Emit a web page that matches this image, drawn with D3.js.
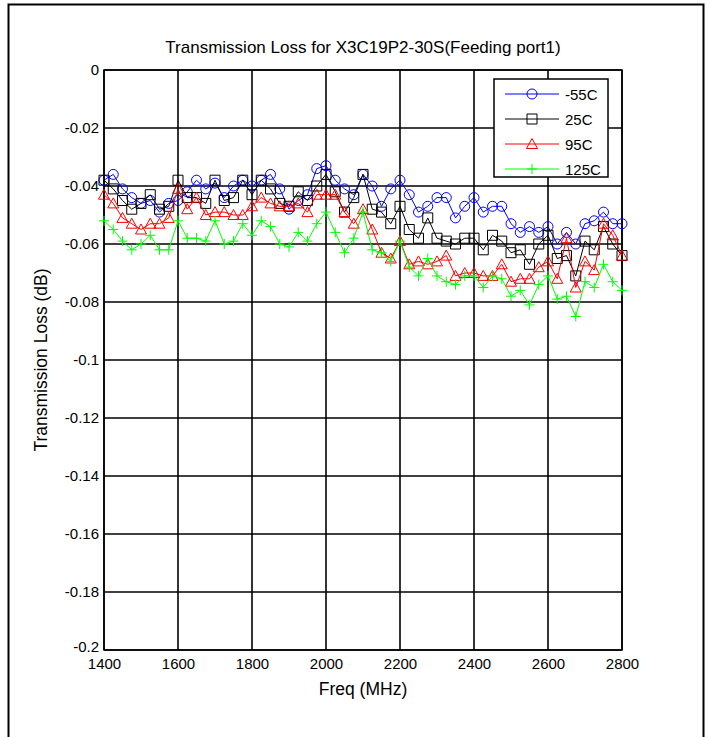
<!DOCTYPE html>
<html>
<head>
<meta charset="utf-8">
<script src="https://cdn.jsdelivr.net/npm/d3@7"></script>
<style>
  body { margin: 0; background: #fff; }
  text { font-family: Arial, "Liberation Sans", sans-serif; fill: #000; }
</style>
</head>
<body>
<svg id="chart" width="710" height="737"></svg>
<script>
// frequency points (MHz)
let freqs = [1400,1425,1450,1475,1500,1525,1550,1575,1600,1625,1650,1675,1700,1725,1750,1775,1800,1825,1850,1875,
  1900,1925,1950,1975,2000,2025,2050,2075,2100,2125,2150,2175,2200,2225,2250,2275,2300,2325,2350,2375,
  2400,2425,2450,2475,2500,2525,2550,2575,2600,2625,2650,2675,2700,2725,2750,2775,2800];

let lossM55 = [-0.038,-0.036,-0.041,-0.044,-0.046,-0.045,-0.049,-0.046,-0.045,-0.042,-0.038,-0.041,-0.039,-0.044,-0.040,-0.038,-0.040,-0.038,-0.036,-0.041,
  -0.048,-0.045,-0.043,-0.034,-0.033,-0.038,-0.041,-0.043,-0.036,-0.040,-0.047,-0.041,-0.038,-0.043,-0.049,-0.047,-0.044,-0.044,-0.051,-0.047,
  -0.044,-0.049,-0.047,-0.047,-0.053,-0.056,-0.054,-0.056,-0.054,-0.060,-0.056,-0.060,-0.053,-0.052,-0.049,-0.053,-0.053];
let loss25 = [-0.038,-0.041,-0.045,-0.048,-0.046,-0.043,-0.048,-0.047,-0.038,-0.044,-0.044,-0.046,-0.038,-0.045,-0.044,-0.038,-0.043,-0.038,-0.041,-0.046,
  -0.047,-0.042,-0.045,-0.040,-0.036,-0.042,-0.049,-0.044,-0.036,-0.048,-0.049,-0.053,-0.047,-0.055,-0.058,-0.051,-0.058,-0.059,-0.060,-0.058,
  -0.058,-0.062,-0.057,-0.059,-0.063,-0.062,-0.067,-0.060,-0.057,-0.065,-0.064,-0.071,-0.059,-0.062,-0.054,-0.060,-0.064];
let loss95 = [-0.043,-0.046,-0.051,-0.053,-0.055,-0.053,-0.053,-0.051,-0.041,-0.048,-0.044,-0.050,-0.049,-0.049,-0.050,-0.050,-0.047,-0.044,-0.046,-0.047,
  -0.047,-0.046,-0.049,-0.043,-0.043,-0.043,-0.049,-0.053,-0.048,-0.055,-0.063,-0.065,-0.059,-0.067,-0.066,-0.067,-0.066,-0.064,-0.071,-0.070,
  -0.070,-0.071,-0.071,-0.067,-0.073,-0.072,-0.072,-0.068,-0.066,-0.072,-0.058,-0.075,-0.066,-0.069,-0.053,-0.057,-0.064];
let loss125 = [-0.052,-0.055,-0.059,-0.062,-0.060,-0.057,-0.062,-0.062,-0.052,-0.058,-0.058,-0.059,-0.052,-0.060,-0.059,-0.053,-0.057,-0.052,-0.054,-0.060,
  -0.061,-0.056,-0.059,-0.053,-0.049,-0.056,-0.063,-0.058,-0.049,-0.062,-0.063,-0.066,-0.059,-0.068,-0.071,-0.065,-0.071,-0.073,-0.074,-0.071,
  -0.071,-0.075,-0.071,-0.072,-0.078,-0.076,-0.081,-0.074,-0.071,-0.079,-0.078,-0.085,-0.073,-0.075,-0.067,-0.073,-0.076];

let seriesNames = ['-55C', '25C', '95C', '125C'];
let seriesValues = [lossM55, loss25, loss95, loss125];
let seriesColors = ['#0000ff', '#000000', '#ff0000', '#00ff00'];
let seriesMarkers = ['circle', 'square', 'triangle', 'plus'];

let xTicks = [1400, 1600, 1800, 2000, 2200, 2400, 2600, 2800];
let yTicks = [0, -0.02, -0.04, -0.06, -0.08, -0.1, -0.12, -0.14, -0.16, -0.18, -0.2];

let svg = d3.select('#chart');
let plotLeft = 104, plotRight = 622, plotTop = 70, plotBottom = 650;

let xScale = d3.scaleLinear().domain([1400, 2800]).range([plotLeft, plotRight]);
let yScale = d3.scaleLinear().domain([-0.2, 0]).range([plotBottom, plotTop]);

// outer frame of the page
svg.append('path')
    .attr('d', `M8.5,737 V4.5 H703.5 V737`)
    .style('fill', 'none')
    .style('stroke', 'black')
    .style('stroke-width', 2);

// grid
let grid = svg.append('g');
grid.selectAll('.vgrid').data(xTicks).enter().append('line')
    .attr('x1', d => xScale(d)).attr('x2', d => xScale(d))
    .attr('y1', plotTop).attr('y2', plotBottom)
    .style('stroke', 'black').style('stroke-width', 1.6);
grid.selectAll('.hgrid').data(yTicks).enter().append('line')
    .attr('x1', plotLeft).attr('x2', plotRight)
    .attr('y1', d => yScale(d)).attr('y2', d => yScale(d))
    .style('stroke', 'black').style('stroke-width', 1.6);

svg.append('rect')
    .attr('x', plotLeft).attr('y', plotTop)
    .attr('width', plotRight - plotLeft).attr('height', plotBottom - plotTop)
    .style('fill', 'none').style('stroke', 'black').style('stroke-width', 1.5);

// axes (labels only, ticks are covered by the grid)
let xAxis = svg.append('g')
    .attr('transform', `translate(0,${plotBottom})`)
    .call(d3.axisBottom(xScale).tickValues(xTicks).tickSize(0).tickPadding(8).tickFormat(d3.format('d')));
let yAxis = svg.append('g')
    .attr('transform', `translate(${plotLeft},0)`)
    .call(d3.axisLeft(yScale).tickValues(yTicks).tickSize(0).tickPadding(5).tickFormat(d => d === 0 ? '0' : String(+d.toFixed(2))));
[xAxis, yAxis].forEach(a => {
  a.select('.domain').remove();
  a.selectAll('text').style('font-size', '15px').style('font-family', 'Arial, "Liberation Sans", sans-serif');
});
// lift the bottom-most y label a little so it clears "1400"
yAxis.selectAll('.tick').filter(d => d === -0.2).select('text').attr('dy', '0.1em');

// marker shapes
let markerPath = (type, s) => {
  if (type === 'circle') return `M${s},0 A${s},${s} 0 1,1 ${-s},0 A${s},${s} 0 1,1 ${s},0 Z`;
  if (type === 'square') return `M${-s},${-s} H${s} V${s} H${-s} Z`;
  if (type === 'triangle') return `M0,${-s * 1.1} L${s * 1.1},${s * 0.9} L${-s * 1.1},${s * 0.9} Z`;
  return `M${-s},0 H${s} M0,${-s} V${s}`;
};

let line = d3.line().x((d, i) => xScale(freqs[i])).y(d => yScale(d));

let plotLayer = svg.append('g');
seriesValues.forEach((vals, k) => {
  let g = plotLayer.append('g');
  g.append('path')
      .datum(vals)
      .attr('d', line)
      .style('fill', 'none')
      .style('stroke', seriesColors[k])
      .style('stroke-width', 1);
  g.selectAll('.pt')
      .data(vals)
      .enter().append('path')
      .attr('class', 'pt')
      .attr('transform', (d, i) => `translate(${xScale(freqs[i])},${yScale(d)})`)
      .attr('d', markerPath(seriesMarkers[k], 5))
      .style('fill', 'none')
      .style('stroke', seriesColors[k])
      .style('stroke-width', 1);
});

// legend
let legend = svg.append('g').attr('transform', 'translate(494,79)');
legend.append('rect')
    .attr('width', 114).attr('height', 98)
    .style('fill', 'white').style('stroke', 'black').style('stroke-width', 1.5);
let items = legend.selectAll('.item')
    .data(seriesNames)
    .enter().append('g')
    .attr('transform', (d, i) => `translate(0,${15 + i * 25})`);
items.append('line')
    .attr('x1', 11).attr('x2', 65)
    .style('stroke', (d, i) => seriesColors[i]).style('stroke-width', 1);
items.append('path')
    .attr('transform', 'translate(38,0)')
    .attr('d', (d, i) => markerPath(seriesMarkers[i], 5))
    .style('fill', 'none')
    .style('stroke', (d, i) => seriesColors[i]);
items.append('text')
    .attr('x', 71).attr('y', 5.5)
    .style('font-size', '15px')
    .text(d => d);

// titles
svg.append('text')
    .attr('x', (plotLeft + plotRight) / 2).attr('y', 53)
    .attr('text-anchor', 'middle')
    .style('font-size', '17px')
    .text('Transmission Loss for X3C19P2-30S(Feeding port1)');
svg.append('text')
    .attr('x', (plotLeft + plotRight) / 2).attr('y', 695)
    .attr('text-anchor', 'middle')
    .style('font-size', '17.5px')
    .text('Freq (MHz)');
svg.append('text')
    .attr('transform', `translate(47,${(plotTop + plotBottom) / 2}) rotate(-90)`)
    .attr('text-anchor', 'middle')
    .style('font-size', '17.5px')
    .text('Transmission Loss (dB)');
</script>
</body>
</html>
